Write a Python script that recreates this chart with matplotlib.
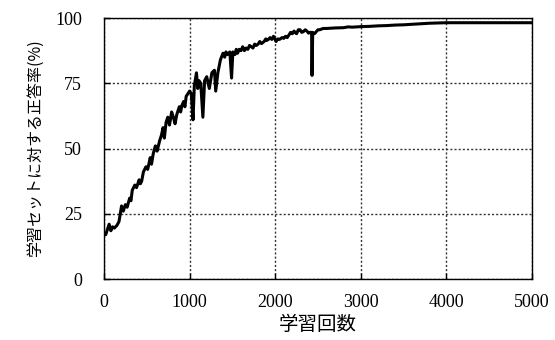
import matplotlib
matplotlib.use("Agg")
import matplotlib.pyplot as plt

plt.rcParams['font.family'] = ['Liberation Serif', 'DejaVu Serif']

# iterations vs. accuracy on the training set (%)
iterations = [0, 20, 40, 60, 80, 100, 120, 150, 175, 190, 205, 225, 250, 270, 300, 315, 330,
              360, 380, 410, 425, 440, 460, 490, 510, 540, 555, 575, 600, 620, 650, 670,
              690, 705, 725, 745, 765, 790, 810, 830, 850, 880, 895, 910, 930, 945, 960,
              980, 1000, 1020, 1040, 1055, 1080, 1095, 1110, 1130, 1155, 1175, 1200, 1230,
              1260, 1290, 1305, 1330, 1360, 1390, 1410, 1425, 1440, 1470, 1490, 1505, 1530,
              1545, 1560, 1580, 1600, 1620, 1640, 1660, 1680, 1700, 1720, 1740, 1760, 1780,
              1800, 1820, 1840, 1870, 1890, 1900, 1920, 1940, 1960, 1980, 2010, 2030, 2050,
              2080, 2100, 2120, 2140, 2160, 2180, 2200, 2220, 2240, 2250, 2270, 2290, 2310,
              2330, 2350, 2370, 2390, 2400, 2425, 2430, 2438, 2460, 2480, 2500, 2520, 2560,
              2600, 2700, 2800, 2850, 2900, 3000, 3100, 3200, 3300, 3400, 3500, 3600, 3700,
              3800, 3900, 4000, 4200, 4500, 5000]
accuracy = [17.5, 17, 19, 21, 18.5, 20, 19.5, 20.5, 22, 25, 28, 26, 28.5, 27.5, 31, 30, 34,
            36, 35, 38, 36.5, 37.5, 41, 43, 42, 46.5, 44, 48, 51, 49, 53, 55,
            58, 54, 60, 62, 59, 64, 62, 59.5, 63, 66, 64, 66.5, 68, 66, 70,
            71, 72, 71, 61, 74, 79, 73, 76, 75, 62, 76, 77.5, 73,
            79, 80, 72, 79, 84, 86.5, 85, 87, 86, 87, 77, 87, 86,
            88, 86.5, 88, 87.5, 89, 87.5, 88.5, 88, 89.5, 89, 88.5, 90, 89.5,
            90, 91, 90.2, 91, 92, 91.4, 91.8, 92.5, 91.8, 93, 91, 92, 91.8,
            92.5, 92.2, 93, 92.5, 93.5, 94.5, 94, 95, 94.2, 94, 95.5, 95.5, 94.5,
            94.8, 95.5, 95, 94.2, 94.5, 94.5, 78, 94.5, 94, 94.8, 95.5, 95.5, 96,
            96, 96.2, 96.3, 96.6, 96.5, 96.7, 96.8, 97, 97.1, 97.3, 97.4, 97.6, 97.8,
            98, 98.1, 98.2, 98.2, 98.2, 98.2]

xticks = [0, 1000, 2000, 3000, 4000, 5000]
yticks = [0, 25, 50, 75, 100]

fig = plt.figure(figsize=(5.55, 3.4), dpi=100)
ax = fig.add_axes([0.1874, 0.1794, 0.9586 - 0.1874, 0.947 - 0.1794])

ax.plot(iterations, accuracy, color="black", linewidth=2.2)

ax.set_xlim(0, 5000)
ax.set_ylim(0, 100)
ax.set_xticks(xticks)
ax.set_yticks(yticks)
ax.grid(which='major', linestyle=(0, (1.5, 1.5)), linewidth=1, color="#333333")
ax.set_axisbelow(True)
ax.tick_params(direction="in", length=4, width=1, colors="black", labelsize=13)
ax.tick_params(axis="y", pad=16)
ax.tick_params(axis="x", pad=11)
for s in ax.spines.values():
    s.set_linewidth(1)
    s.set_color("black")

ax.set_xlabel("学習回数", fontsize=14, family=["Noto Sans CJK JP", "DejaVu Sans"], labelpad=2)
ax.set_ylabel("学習セットに対する正答率(%)", fontsize=11.5,
              family=["Noto Sans CJK JP", "DejaVu Sans"], labelpad=8)

plt.savefig("out.png", dpi=100)
